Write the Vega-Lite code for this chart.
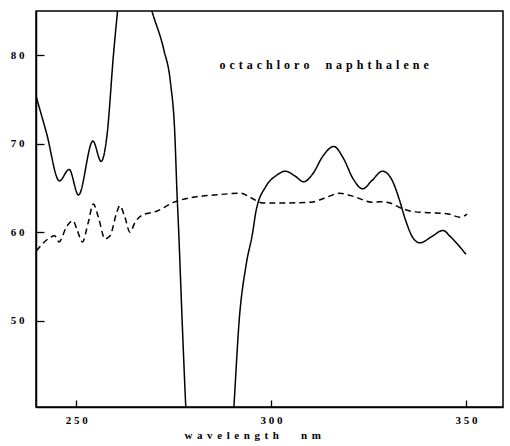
{
  "$schema": "https://vega.github.io/schema/vega-lite/v6.json",
  "width": 467,
  "height": 396,
  "autosize": "none",
  "padding": {"left": 36, "top": 11, "right": 7, "bottom": 39},
  "background": "white",
  "config": {
    "view": {"stroke": "black", "strokeWidth": 1.5},
    "axis": {
      "grid": false,
      "domainColor": "black",
      "domainWidth": 1.5,
      "tickColor": "black",
      "tickWidth": 1.3,
      "labelFont": "Liberation Serif",
      "labelFontWeight": "bold",
      "labelFontSize": 11,
      "labelColor": "black",
      "titleFont": "Liberation Serif",
      "titleFontWeight": "bold",
      "titleFontSize": 11,
      "titleColor": "black"
    }
  },
  "datasets": {
    "spectra": [
      {"wl": 239.5, "v": 75.7, "s": "a"},
      {"wl": 242.4, "v": 71.2, "s": "a"},
      {"wl": 245.7, "v": 65.8, "s": "a"},
      {"wl": 248.2, "v": 67.1, "s": "a"},
      {"wl": 250.6, "v": 64.2, "s": "a"},
      {"wl": 254.3, "v": 70.3, "s": "a"},
      {"wl": 256.4, "v": 68.0, "s": "a"},
      {"wl": 257.9, "v": 70.9, "s": "a"},
      {"wl": 259.6, "v": 80.2, "s": "a"},
      {"wl": 260.6, "v": 84.9, "s": "a"},
      {"wl": 262, "v": 90.5, "s": "a"},
      {"wl": 263.5, "v": 93, "s": "a"},
      {"wl": 265.5, "v": 92, "s": "a"},
      {"wl": 267.5, "v": 88, "s": "a"},
      {"wl": 269.5, "v": 84.9, "s": "a"},
      {"wl": 272.5, "v": 80.6, "s": "a"},
      {"wl": 274.2, "v": 76.9, "s": "a"},
      {"wl": 275.3, "v": 71.2, "s": "a"},
      {"wl": 275.9, "v": 64.1, "s": "a"},
      {"wl": 276.2, "v": 61.2, "s": "a"},
      {"wl": 277.2, "v": 49.9, "s": "a"},
      {"wl": 278.1, "v": 40.5, "s": "a"},
      {"wl": 279.5, "v": 30, "s": "a"},
      {"wl": 284, "v": 22, "s": "a"},
      {"wl": 289, "v": 30, "s": "a"},
      {"wl": 290.5, "v": 40.5, "s": "a"},
      {"wl": 291.8, "v": 49.9, "s": "a"},
      {"wl": 293.6, "v": 56.3, "s": "a"},
      {"wl": 295.3, "v": 60.0, "s": "a"},
      {"wl": 296.1, "v": 62.3, "s": "a"},
      {"wl": 298.7, "v": 65.2, "s": "a"},
      {"wl": 301.3, "v": 66.4, "s": "a"},
      {"wl": 303.7, "v": 66.9, "s": "a"},
      {"wl": 306.0, "v": 66.4, "s": "a"},
      {"wl": 308.4, "v": 65.7, "s": "a"},
      {"wl": 310.7, "v": 66.6, "s": "a"},
      {"wl": 313.3, "v": 68.6, "s": "a"},
      {"wl": 316.1, "v": 69.7, "s": "a"},
      {"wl": 318.5, "v": 68.4, "s": "a"},
      {"wl": 321.1, "v": 66.0, "s": "a"},
      {"wl": 323.5, "v": 64.9, "s": "a"},
      {"wl": 325.8, "v": 65.8, "s": "a"},
      {"wl": 328.6, "v": 66.9, "s": "a"},
      {"wl": 330.9, "v": 66.0, "s": "a"},
      {"wl": 332.9, "v": 63.7, "s": "a"},
      {"wl": 334.4, "v": 61.5, "s": "a"},
      {"wl": 336.5, "v": 59.3, "s": "a"},
      {"wl": 338.2, "v": 58.8, "s": "a"},
      {"wl": 341.2, "v": 59.5, "s": "a"},
      {"wl": 344.1, "v": 60.2, "s": "a"},
      {"wl": 346.0, "v": 59.5, "s": "a"},
      {"wl": 350.0, "v": 57.5, "s": "a"},
      {"wl": 239.8, "v": 57.9, "s": "b"},
      {"wl": 242.8, "v": 59.25, "s": "b"},
      {"wl": 244.5, "v": 59.6, "s": "b"},
      {"wl": 245.6, "v": 58.9, "s": "b"},
      {"wl": 247.5, "v": 60.6, "s": "b"},
      {"wl": 249.2, "v": 61.3, "s": "b"},
      {"wl": 250.3, "v": 60.2, "s": "b"},
      {"wl": 251.6, "v": 58.9, "s": "b"},
      {"wl": 253.1, "v": 61.1, "s": "b"},
      {"wl": 254.4, "v": 63.2, "s": "b"},
      {"wl": 255.7, "v": 61.7, "s": "b"},
      {"wl": 257.4, "v": 59.25, "s": "b"},
      {"wl": 258.7, "v": 59.6, "s": "b"},
      {"wl": 260.4, "v": 62.2, "s": "b"},
      {"wl": 261.2, "v": 63.0, "s": "b"},
      {"wl": 262.5, "v": 61.7, "s": "b"},
      {"wl": 263.8, "v": 60.0, "s": "b"},
      {"wl": 265.1, "v": 61.1, "s": "b"},
      {"wl": 266.8, "v": 61.9, "s": "b"},
      {"wl": 270.8, "v": 62.4, "s": "b"},
      {"wl": 275.1, "v": 63.4, "s": "b"},
      {"wl": 279.4, "v": 63.9, "s": "b"},
      {"wl": 285.4, "v": 64.2, "s": "b"},
      {"wl": 292.3, "v": 64.4, "s": "b"},
      {"wl": 294.8, "v": 63.9, "s": "b"},
      {"wl": 297.9, "v": 63.3, "s": "b"},
      {"wl": 302.6, "v": 63.3, "s": "b"},
      {"wl": 310.3, "v": 63.4, "s": "b"},
      {"wl": 313.7, "v": 63.85, "s": "b"},
      {"wl": 317.6, "v": 64.4, "s": "b"},
      {"wl": 321.5, "v": 64.0, "s": "b"},
      {"wl": 325.8, "v": 63.4, "s": "b"},
      {"wl": 328.2, "v": 63.45, "s": "b"},
      {"wl": 330.5, "v": 63.3, "s": "b"},
      {"wl": 333.5, "v": 62.7, "s": "b"},
      {"wl": 336.9, "v": 62.3, "s": "b"},
      {"wl": 341.2, "v": 62.2, "s": "b"},
      {"wl": 345.5, "v": 62.05, "s": "b"},
      {"wl": 348.5, "v": 61.7, "s": "b"},
      {"wl": 350.3, "v": 62.05, "s": "b"}
    ],
    "label": [{"wl": 313.6, "v": 78.9, "t": "o\u2004c\u2004t\u2004a\u2004c\u2004h\u2004l\u2004o\u2004r\u2004o\u2004\u2004\u2004\u2004n\u2004a\u2004p\u2004h\u2004t\u2004h\u2004a\u2004l\u2004e\u2004n\u2004e"}]
  },
  "layer": [
    {
      "data": {"name": "spectra"},
      "mark": {"type": "line", "clip": true, "interpolate": "monotone", "strokeWidth": 1.5, "color": "black"},
      "encoding": {
        "x": {
          "field": "wl", "type": "quantitative",
          "scale": {"domain": [239.7, 359.5], "nice": false, "zero": false},
          "axis": {
            "values": [250, 300, 350],
            "tickSize": -7,
            "labelPadding": 14,
            "labelExpr": "join(split(datum.label, ''), '\u2005')",
            "title": "w\u2004\u200aa\u2004\u200av\u2004\u200ae\u2004\u200al\u2004\u200ae\u2004\u200an\u2004\u200ag\u2004\u200at\u2004\u200ah\u2004\u2004\u2004\u2004\u2004\u2004n\u2004\u200am",
            "titleAnchor": "start",
            "titleX": 148,
            "titleY": 31,
            "titleBaseline": "alphabetic"
          }
        },
        "y": {
          "field": "v", "type": "quantitative",
          "scale": {"domain": [40.25, 85], "nice": false, "zero": false},
          "axis": {
            "values": [50, 60, 70, 80],
            "tickSize": -8,
            "labelPadding": 20,
            "labelExpr": "join(split(datum.label, ''), '\u2005')",
            "title": null
          }
        },
        "detail": {"field": "s"},
        "strokeDash": {
          "field": "s", "type": "nominal",
          "scale": {"domain": ["a", "b"], "range": [[1, 0], [6, 4]]},
          "legend": null
        }
      }
    },
    {
      "data": {"name": "label"},
      "mark": {"type": "text", "font": "Liberation Serif", "fontSize": 12, "fontWeight": "bold", "align": "center", "baseline": "middle", "color": "black"},
      "encoding": {
        "x": {"field": "wl", "type": "quantitative"},
        "y": {"field": "v", "type": "quantitative"},
        "text": {"field": "t"}
      }
    }
  ]
}
